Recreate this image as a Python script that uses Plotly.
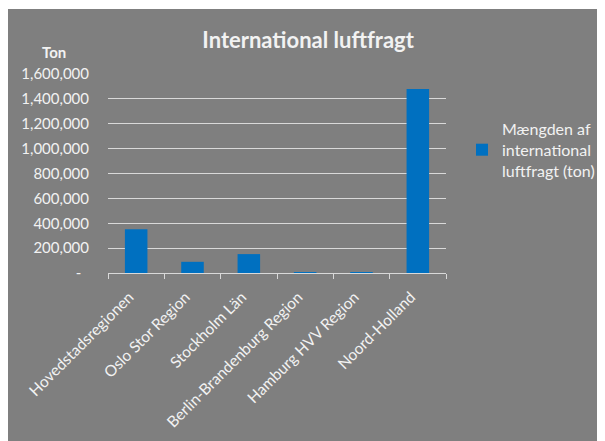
import plotly.graph_objects as go

categories = ["Hovedstadsregionen", "Oslo Stor Region", "Stockholm Län",
              "Berlin-Brandenburg Region", "Hamburg HVV Region", "Noord-Holland"]
values = [352000, 90000, 152000, 8000, 7000, 1480000]
series_name = "Mængden af<br>international<br>luftfragt (ton)"
tick_vals = [0, 200000, 400000, 600000, 800000, 1000000, 1200000, 1400000, 1600000]
tick_text = ["-\u00a0\u00a0", "200,000", "400,000", "600,000", "800,000", "1,000,000",
             "1,200,000", "1,400,000", "1,600,000"]

FONT = "Lato"
TXT = "#f2f2f2"
BG = "#7f7f7f"

# page body has an 8px offset; figure drawn at 597x433 so nothing is clipped
W, H = 597, 433
L, T = 100, 66
PW, PH = 338, 199
R = W - L - PW
B = H - T - PH
x0p = L
y0p = T + PH

fig = go.Figure()
fig.add_trace(go.Bar(x=categories, y=values, name=series_name,
                     marker=dict(color="#0070c0", line=dict(width=0)),
                     showlegend=True))

fig.update_layout(
    width=W, height=H,
    margin=dict(l=L, r=R, t=T, b=B, autoexpand=False),
    paper_bgcolor="white",
    plot_bgcolor="rgba(0,0,0,0)",
    bargap=0.6,
    font=dict(family=FONT, color=TXT, size=14),
    title=dict(text="<b>International luftfragt</b>", x=0.592, xref="paper",
               xanchor="center", y=1 - 32 / H, yref="container", yanchor="middle",
               font=dict(family=FONT, size=22, color=TXT)),
    legend=dict(x=(454 - x0p) / PW, xanchor="left", y=(y0p - 104) / PH, yanchor="top",
                bgcolor="rgba(0,0,0,0)", font=dict(size=16, color=TXT),
                itemwidth=30),
    shapes=[dict(type="rect", xref="paper", yref="paper",
                 x0=(-5 - x0p) / PW, x1=(W + 5 - x0p) / PW,
                 y0=(y0p - H - 5) / PH, y1=(y0p - 1) / PH,
                 fillcolor=BG, line=dict(width=0), layer="below")],
    annotations=[dict(text="<b>Ton</b>", xref="paper", yref="paper",
                      x=(46 - x0p) / PW, y=(y0p - 44) / PH,
                      xanchor="center", yanchor="middle", showarrow=False,
                      font=dict(family=FONT, size=15, color=TXT))],
)
fig.update_yaxes(range=[0, 1600000], tickvals=tick_vals, ticktext=tick_text,
                 showgrid=True, gridcolor="#d9d9d9", gridwidth=1,
                 zeroline=False, showline=False, ticks="",
                 tickfont=dict(size=15, color=TXT), ticklabelstandoff=18)
fig.update_xaxes(tickangle=-45, showline=True, linecolor="#d9d9d9", linewidth=1,
                 ticks="outside", tickson="boundaries", ticklen=5,
                 tickcolor="#d9d9d9", showgrid=False,
                 ticklabelstandoff=8, ticklabelshift=-7,
                 tickfont=dict(size=15.5, color=TXT))

fig.write_html("out.html")
